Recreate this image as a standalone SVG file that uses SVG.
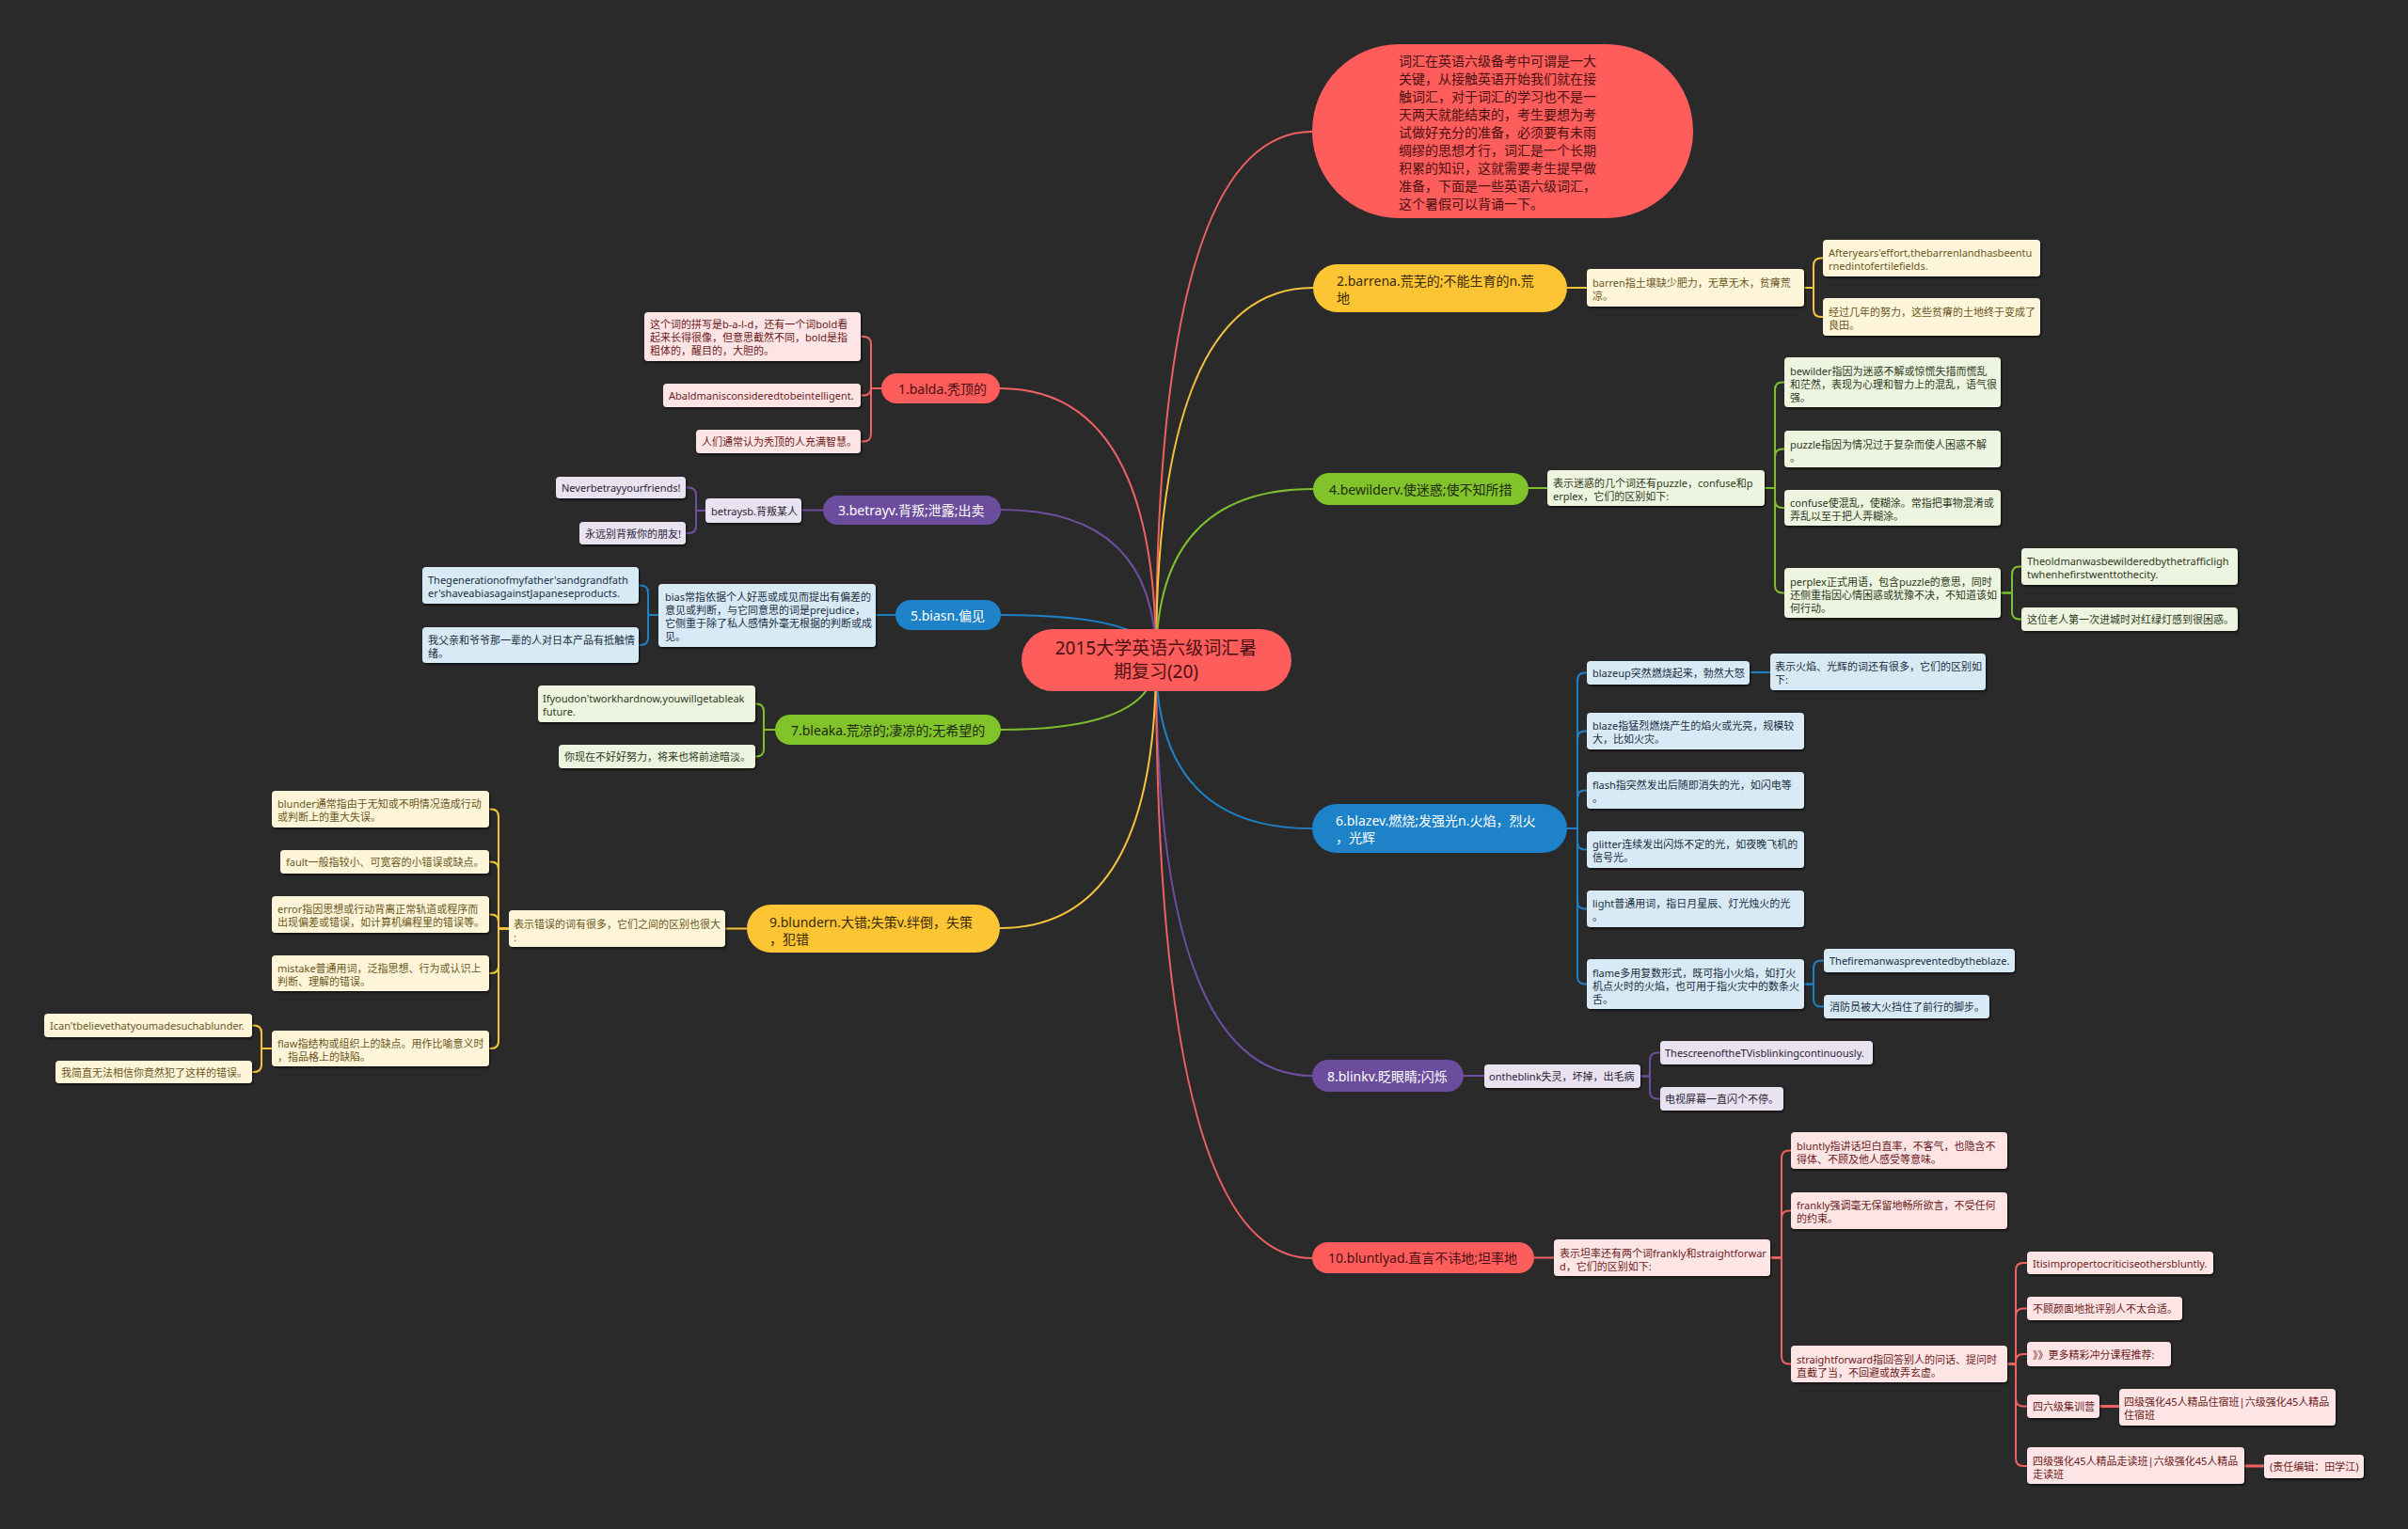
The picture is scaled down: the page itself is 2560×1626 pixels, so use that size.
<svg xmlns="http://www.w3.org/2000/svg" width="2560" height="1626" viewBox="0 0 2560 1626">
<defs>
<filter id="sh" x="-10%" y="-20%" width="120%" height="150%"><feDropShadow dx="1" dy="1.5" stdDeviation="0.8" flood-color="#000" flood-opacity="0.7"/></filter>
</defs>
<style>
text{font-family:"Noto Sans","Noto Sans CJK SC",sans-serif;dominant-baseline:central}
.lf text{font-size:11px}
.mn text{font-size:14px}
.lf rect{filter:url(#sh)}
.c path{fill:none;stroke-width:2}
.cr{stroke:#f06262}.cy{stroke:#f5c33d}.cp{stroke:#6e4f9f}.cg{stroke:#7dbf2d}.cb{stroke:#1f80c5}
.thick{stroke-width:3!important}
.lr rect{fill:#fde5e5}.lr text{fill:#6e1a1a}
.ly rect{fill:#fff5d9}.ly text{fill:#6a5520}
.lp rect{fill:#e8e2f1}.lp text{fill:#2a2438}
.lg rect{fill:#edf4df}.lg text{fill:#2f3a22}
.lb rect{fill:#d7eaf6}.lb text{fill:#1b2d3e}
.nr rect{fill:#ff5c5c}.nr text{fill:#4a1010}
.ny rect{fill:#fdc534}.ny text{fill:#3a2a05}
.np rect{fill:#6c4c9c}.np text{fill:#ffffff}
.ng rect{fill:#80c32b}.ng text{fill:#1f2a10}
.nb rect{fill:#1d82c8}.nb text{fill:#ffffff}
</style>
<rect width="2560" height="1626" fill="#2a2a2a"/>

<g id="connectors" class="c">
<path class="cr" d="M1229 702 Q1229 140 1395 140"/>
<path class="cy" d="M1229 702 Q1229 306 1396 306"/>
<path class="cg" d="M1229 702 Q1229 520 1396 520"/>
<path class="cb" d="M1229 702 Q1229 881 1395 881"/>
<path class="cp" d="M1229 702 Q1229 1144 1395 1144"/>
<path class="cr" d="M1229 702 Q1229 1338 1395 1338"/>
<path class="cr" d="M1229 702 Q1229 413 1063 413"/>
<path class="cp" d="M1229 702 Q1229 542 1064 542"/>
<path class="cb" d="M1229 702 Q1229 654 1064 654"/>
<path class="cg" d="M1229 702 Q1229 776 1064 776"/>
<path class="cy" d="M1229 702 Q1229 987 1063 987"/>
<path class="cr" d="M937 413 H926 V366 Q926 358 918 358 H915"/>
<path class="cr" d="M937 413 H926 V412.5 Q926 420.5 918 420.5 H915"/>
<path class="cr" d="M937 413 H926 V461.5 Q926 469.5 918 469.5 H915"/>
<path class="cp" d="M875 542.5 H852"/>
<path class="cp" d="M750 543 H740 V526.5 Q740 518.5 732 518.5 H729"/>
<path class="cp" d="M750 543 H740 V559 Q740 567 732 567 H729"/>
<path class="cb" d="M952 654 H931"/>
<path class="cb" d="M700 654 H689 V630.5 Q689 622.5 681 622.5 H679"/>
<path class="cb" d="M700 654 H689 V678 Q689 686 681 686 H679"/>
<path class="cg" d="M824 776 H812 V756.5 Q812 748.5 804 748.5 H803"/>
<path class="cg" d="M824 776 H812 V796.5 Q812 804.5 804 804.5 H803"/>
<path class="cy" d="M794 987.5 H771"/>
<path class="cy" d="M541 987.5 H530 V868.5 Q530 860.5 522 860.5 H520"/>
<path class="cy" d="M541 987.5 H530 V924.5 Q530 916.5 522 916.5 H520"/>
<path class="cy" d="M541 987.5 H530 V980.5 Q530 972.5 522 972.5 H520"/>
<path class="cy" d="M541 987.5 H530 V1027 Q530 1035 522 1035 H520"/>
<path class="cy" d="M541 987.5 H530 V1107 Q530 1115 522 1115 H520"/>
<path class="cy" d="M289 1115 H278 V1098.5 Q278 1090.5 270 1090.5 H268"/>
<path class="cy" d="M289 1115 H278 V1132 Q278 1140 270 1140 H268"/>
<path class="cy" d="M1666 306 H1687"/>
<path class="cy" d="M1918 306 H1928 V282.5 Q1928 274.5 1936 274.5 H1938"/>
<path class="cy" d="M1918 306 H1928 V329 Q1928 337 1936 337 H1938"/>
<path class="cg" d="M1625 519 H1645"/>
<path class="cg" d="M1876 519 H1887 V414.5 Q1887 406.5 1895 406.5 H1897"/>
<path class="cg" d="M1876 519 H1887 V485.5 Q1887 477.5 1895 477.5 H1897"/>
<path class="cg" d="M1876 519 H1887 V532 Q1887 540 1895 540 H1897"/>
<path class="cg" d="M1876 519 H1887 V622.5 Q1887 630.5 1895 630.5 H1897"/>
<path class="cg" d="M2127 630.5 H2139 V610.5 Q2139 602.5 2147 602.5 H2149"/>
<path class="cg" d="M2127 630.5 H2139 V650.5 Q2139 658.5 2147 658.5 H2149"/>
<path class="cb" d="M1666 881 H1677 V723.5 Q1677 715.5 1685 715.5 H1687"/>
<path class="cb" d="M1666 881 H1677 V785.5 Q1677 777.5 1685 777.5 H1687"/>
<path class="cb" d="M1666 881 H1677 V848.5 Q1677 840.5 1685 840.5 H1687"/>
<path class="cb" d="M1666 881 H1677 V895.5 Q1677 903.5 1685 903.5 H1687"/>
<path class="cb" d="M1666 881 H1677 V958.5 Q1677 966.5 1685 966.5 H1687"/>
<path class="cb" d="M1666 881 H1677 V1038.5 Q1677 1046.5 1685 1046.5 H1687"/>
<path class="cb" d="M1860 715 H1882"/>
<path class="cb" d="M1918 1046.5 H1928 V1029.5 Q1928 1021.5 1936 1021.5 H1939"/>
<path class="cb" d="M1918 1046.5 H1928 V1062.5 Q1928 1070.5 1936 1070.5 H1939"/>
<path class="cp" d="M1556 1144 H1578"/>
<path class="cp" d="M1744 1144.5 H1754 V1127.5 Q1754 1119.5 1762 1119.5 H1765"/>
<path class="cp" d="M1744 1144.5 H1754 V1160.5 Q1754 1168.5 1762 1168.5 H1765"/>
<path class="cr" d="M1631 1337.5 H1652"/>
<path class="cr" d="M1882 1337.5 H1894 V1231.5 Q1894 1223.5 1902 1223.5 H1904"/>
<path class="cr" d="M1882 1337.5 H1894 V1295.5 Q1894 1287.5 1902 1287.5 H1904"/>
<path class="cr" d="M1882 1337.5 H1894 V1442.5 Q1894 1450.5 1902 1450.5 H1904"/>
<path class="cr" d="M2134 1450.5 H2143 V1351 Q2143 1343 2151 1343 H2155"/>
<path class="cr" d="M2134 1450.5 H2143 V1399.5 Q2143 1391.5 2151 1391.5 H2155"/>
<path class="cr" d="M2134 1450.5 H2143 V1448 Q2143 1440 2151 1440 H2155"/>
<path class="cr" d="M2134 1450.5 H2143 V1487.5 Q2143 1495.5 2151 1495.5 H2155"/>
<path class="cr" d="M2134 1450.5 H2143 V1551 Q2143 1559 2151 1559 H2155"/>
<path class="cr thick" d="M2232 1495.5 H2253"/>
<path class="cr thick" d="M2386 1559 H2407"/>
</g>

<g id="center" class="nr"><rect x="1086" y="669" width="287" height="66" rx="33"/>
<text x="1229" y="689" text-anchor="middle" font-size="19">2015大学英语六级词汇暑</text>
<text x="1229" y="714" text-anchor="middle" font-size="19">期复习(20)</text></g>
<g id="intro" class="nr"><rect x="1395" y="47" width="405" height="185" rx="92.5"/>
<text font-size="14"><tspan x="1487" y="64">词汇在英语六级备考中可谓是一大</tspan><tspan x="1487" y="83">关键，从接触英语开始我们就在接</tspan><tspan x="1487" y="102">触词汇，对于词汇的学习也不是一</tspan><tspan x="1487" y="121">天两天就能结束的，考生要想为考</tspan><tspan x="1487" y="140">试做好充分的准备，必须要有未雨</tspan><tspan x="1487" y="159">绸缪的思想才行，词汇是一个长期</tspan><tspan x="1487" y="178">积累的知识，这就需要考生提早做</tspan><tspan x="1487" y="197">准备，下面是一些英语六级词汇，</tspan><tspan x="1487" y="216">这个暑假可以背诵一下。</tspan></text></g>

<g id="n1" class="mn nr"><rect x="937" y="397" width="126" height="32" rx="16"/><text x="955" y="413">1.balda.秃顶的</text></g>
<g id="n2" class="mn ny"><rect x="1396" y="281" width="270" height="51" rx="25.5"/><text><tspan x="1421" y="298">2.barrena.荒芜的;不能生育的n.荒</tspan><tspan x="1421" y="316">地</tspan></text></g>
<g id="n3" class="mn np"><rect x="875" y="527" width="189" height="31" rx="15.5"/><text x="891" y="542.5">3.betrayv.背叛;泄露;出卖</text></g>
<g id="n4" class="mn ng"><rect x="1396" y="503" width="229" height="34" rx="17"/><text x="1413" y="520">4.bewilderv.使迷惑;使不知所措</text></g>
<g id="n5" class="mn nb"><rect x="952" y="638" width="112" height="32" rx="16"/><text x="968" y="654">5.biasn.偏见</text></g>
<g id="n6" class="mn nb"><rect x="1395" y="855" width="271" height="52" rx="26"/><text><tspan x="1420" y="872">6.blazev.燃烧;发强光n.火焰，烈火</tspan><tspan x="1420" y="890">，光辉</tspan></text></g>
<g id="n7" class="mn ng"><rect x="824" y="760" width="240" height="32" rx="16"/><text x="841" y="776">7.bleaka.荒凉的;凄凉的;无希望的</text></g>
<g id="n8" class="mn np"><rect x="1395" y="1127" width="161" height="34" rx="17"/><text x="1411" y="1144">8.blinkv.眨眼睛;闪烁</text></g>
<g id="n9" class="mn ny"><rect x="794" y="962" width="269" height="51" rx="25.5"/><text><tspan x="818" y="980">9.blundern.大错;失策v.绊倒，失策</tspan><tspan x="818" y="998">，犯错</tspan></text></g>
<g id="n10" class="mn nr"><rect x="1395" y="1321" width="236" height="33" rx="16.5"/><text x="1412" y="1337.5">10.bluntlyad.直言不讳地;坦率地</text></g>

<g id="n1a" class="lf lr"><rect x="685" y="332" width="230" height="52" rx="4"/><text><tspan x="691" y="344">这个词的拼写是b-a-l-d，还有一个词bold看</tspan><tspan x="691" y="358">起来长得很像，但意思截然不同，bold是指</tspan><tspan x="691" y="372">粗体的，醒目的，大胆的。</tspan></text></g>
<g id="n1b" class="lf lr"><rect x="705" y="408" width="210" height="25" rx="4"/><text x="711" y="420.5">Abaldmanisconsideredtobeintelligent.</text></g>
<g id="n1c" class="lf lr"><rect x="740" y="457" width="175" height="25" rx="4"/><text x="746" y="469.5">人们通常认为秃顶的人充满智慧。</text></g>

<g id="n3a" class="lf lp"><rect x="750" y="530" width="102" height="26" rx="4"/><text x="756" y="543">betraysb.背叛某人</text></g>
<g id="n3b" class="lf lp"><rect x="591" y="507" width="138" height="23" rx="4"/><text x="597" y="518.5">Neverbetrayyourfriends!</text></g>
<g id="n3c" class="lf lp"><rect x="616" y="555" width="113" height="24" rx="4"/><text x="622" y="567">永远别背叛你的朋友!</text></g>

<g id="n5a" class="lf lb"><rect x="700" y="621" width="231" height="67" rx="4"/><text><tspan x="707" y="634">bias常指依据个人好恶或成见而提出有偏差的</tspan><tspan x="707" y="648">意见或判断，与它同意思的词是prejudice，</tspan><tspan x="707" y="662">它侧重于除了私人感情外毫无根据的判断或成</tspan><tspan x="707" y="676">见。</tspan></text></g>
<g id="n5b" class="lf lb"><rect x="449" y="603" width="230" height="39" rx="4"/><text><tspan x="455" y="616">Thegenerationofmyfather'sandgrandfath</tspan><tspan x="455" y="630">er'shaveabiasagainstJapaneseproducts.</tspan></text></g>
<g id="n5c" class="lf lb"><rect x="449" y="667" width="230" height="38" rx="4"/><text><tspan x="455" y="679.5">我父亲和爷爷那一辈的人对日本产品有抵触情</tspan><tspan x="455" y="693.5">绪。</tspan></text></g>

<g id="n7a" class="lf lg"><rect x="572" y="729" width="231" height="39" rx="4"/><text><tspan x="577" y="742">Ifyoudon'tworkhardnow,youwillgetableak</tspan><tspan x="577" y="756">future.</tspan></text></g>
<g id="n7b" class="lf lg"><rect x="594" y="792" width="209" height="25" rx="4"/><text x="600" y="804.5">你现在不好好努力，将来也将前途暗淡。</text></g>

<g id="n9a" class="lf ly"><rect x="541" y="968" width="230" height="39" rx="4"/><text><tspan x="546" y="981.5">表示错误的词有很多，它们之间的区别也很大</tspan><tspan x="546" y="995.5">:</tspan></text></g>
<g id="n9b" class="lf ly"><rect x="289" y="841" width="231" height="39" rx="4"/><text><tspan x="295" y="854">blunder通常指由于无知或不明情况造成行动</tspan><tspan x="295" y="868">或判断上的重大失误。</tspan></text></g>
<g id="n9c" class="lf ly"><rect x="298" y="904" width="222" height="25" rx="4"/><text x="304" y="916.5">fault一般指较小、可宽容的小错误或缺点。</text></g>
<g id="n9d" class="lf ly"><rect x="289" y="953" width="231" height="39" rx="4"/><text><tspan x="295" y="966">error指因思想或行动背离正常轨道或程序而</tspan><tspan x="295" y="980">出现偏差或错误，如计算机编程里的错误等。</tspan></text></g>
<g id="n9e" class="lf ly"><rect x="289" y="1016" width="231" height="38" rx="4"/><text><tspan x="295" y="1028.5">mistake普通用词，泛指思想、行为或认识上</tspan><tspan x="295" y="1042.5">判断、理解的错误。</tspan></text></g>
<g id="n9f" class="lf ly"><rect x="289" y="1096" width="231" height="38" rx="4"/><text><tspan x="295" y="1108.5">flaw指结构或组织上的缺点。用作比喻意义时</tspan><tspan x="295" y="1122.5">，指品格上的缺陷。</tspan></text></g>
<g id="n9g" class="lf ly"><rect x="47" y="1078" width="221" height="25" rx="4"/><text x="53" y="1090.5">Ican'tbelievethatyoumadesuchablunder.</text></g>
<g id="n9h" class="lf ly"><rect x="59" y="1128" width="209" height="24" rx="4"/><text x="65" y="1140">我简直无法相信你竟然犯了这样的错误。</text></g>

<g id="n2a" class="lf ly"><rect x="1687" y="286" width="231" height="40" rx="4"/><text><tspan x="1693" y="299.5">barren指土壤缺少肥力，无草无木，贫瘠荒</tspan><tspan x="1693" y="313.5">凉。</tspan></text></g>
<g id="n2b" class="lf ly"><rect x="1938" y="255" width="231" height="39" rx="4"/><text><tspan x="1944" y="268">Afteryears'effort,thebarrenlandhasbeentu</tspan><tspan x="1944" y="282">rnedintofertilefields.</tspan></text></g>
<g id="n2c" class="lf ly"><rect x="1938" y="317" width="231" height="40" rx="4"/><text><tspan x="1944" y="330.5">经过几年的努力，这些贫瘠的土地终于变成了</tspan><tspan x="1944" y="344.5">良田。</tspan></text></g>

<g id="n4a" class="lf lg"><rect x="1645" y="500" width="231" height="38" rx="4"/><text><tspan x="1651" y="513">表示迷惑的几个词还有puzzle，confuse和p</tspan><tspan x="1651" y="527">erplex，它们的区别如下:</tspan></text></g>
<g id="n4b" class="lf lg"><rect x="1897" y="380" width="230" height="53" rx="4"/><text><tspan x="1903" y="393.5">bewilder指因为迷惑不解或惊慌失措而慌乱</tspan><tspan x="1903" y="407.5">和茫然，表现为心理和智力上的混乱，语气很</tspan><tspan x="1903" y="421.5">强。</tspan></text></g>
<g id="n4c" class="lf lg"><rect x="1897" y="458" width="230" height="39" rx="4"/><text><tspan x="1903" y="471.5">puzzle指因为情况过于复杂而使人困惑不解</tspan><tspan x="1903" y="485.5">。</tspan></text></g>
<g id="n4d" class="lf lg"><rect x="1897" y="521" width="230" height="38" rx="4"/><text><tspan x="1903" y="533.5">confuse使混乱，使糊涂。常指把事物混淆或</tspan><tspan x="1903" y="547.5">弄乱以至于把人弄糊涂。</tspan></text></g>
<g id="n4e" class="lf lg"><rect x="1897" y="604" width="230" height="53" rx="4"/><text><tspan x="1903" y="617.5">perplex正式用语，包含puzzle的意思，同时</tspan><tspan x="1903" y="631.5">还侧重指因心情困惑或犹豫不决，不知道该如</tspan><tspan x="1903" y="645.5">何行动。</tspan></text></g>
<g id="n4f" class="lf lg"><rect x="2149" y="583" width="230" height="39" rx="4"/><text><tspan x="2155" y="596">Theoldmanwasbewilderedbythetrafficligh</tspan><tspan x="2155" y="610">twhenhefirstwenttothecity.</tspan></text></g>
<g id="n4g" class="lf lg"><rect x="2149" y="646" width="230" height="25" rx="4"/><text x="2155" y="658.5">这位老人第一次进城时对红绿灯感到很困惑。</text></g>

<g id="n6a" class="lf lb"><rect x="1687" y="703" width="173" height="25" rx="4"/><text x="1693" y="715.5">blazeup突然燃烧起来，勃然大怒</text></g>
<g id="n6b" class="lf lb"><rect x="1882" y="695" width="229" height="39" rx="4"/><text><tspan x="1887" y="708">表示火焰、光辉的词还有很多，它们的区别如</tspan><tspan x="1887" y="722">下:</tspan></text></g>
<g id="n6c" class="lf lb"><rect x="1687" y="758" width="231" height="39" rx="4"/><text><tspan x="1693" y="771">blaze指猛烈燃烧产生的焰火或光亮，规模较</tspan><tspan x="1693" y="785">大，比如火灾。</tspan></text></g>
<g id="n6d" class="lf lb"><rect x="1687" y="821" width="231" height="39" rx="4"/><text><tspan x="1693" y="834">flash指突然发出后随即消失的光，如闪电等</tspan><tspan x="1693" y="848">。</tspan></text></g>
<g id="n6e" class="lf lb"><rect x="1687" y="884" width="231" height="39" rx="4"/><text><tspan x="1693" y="897">glitter连续发出闪烁不定的光，如夜晚飞机的</tspan><tspan x="1693" y="911">信号光。</tspan></text></g>
<g id="n6f" class="lf lb"><rect x="1687" y="947" width="231" height="39" rx="4"/><text><tspan x="1693" y="960">light普通用词，指日月星辰、灯光烛火的光</tspan><tspan x="1693" y="974">。</tspan></text></g>
<g id="n6g" class="lf lb"><rect x="1687" y="1020" width="231" height="53" rx="4"/><text><tspan x="1693" y="1033.5">flame多用复数形式，既可指小火焰，如打火</tspan><tspan x="1693" y="1047.5">机点火时的火焰，也可用于指火灾中的数条火</tspan><tspan x="1693" y="1061.5">舌。</tspan></text></g>
<g id="n6h" class="lf lb"><rect x="1939" y="1009" width="203" height="25" rx="4"/><text x="1945" y="1021.5">Thefiremanwaspreventedbytheblaze.</text></g>
<g id="n6i" class="lf lb"><rect x="1939" y="1058" width="176" height="25" rx="4"/><text x="1945" y="1070.5">消防员被大火挡住了前行的脚步。</text></g>

<g id="n8a" class="lf lp"><rect x="1578" y="1132" width="166" height="25" rx="4"/><text x="1583" y="1144.5">ontheblink失灵，坏掉，出毛病</text></g>
<g id="n8b" class="lf lp"><rect x="1765" y="1107" width="226" height="25" rx="4"/><text x="1770" y="1119.5">ThescreenoftheTVisblinkingcontinuously.</text></g>
<g id="n8c" class="lf lp"><rect x="1765" y="1156" width="131" height="25" rx="4"/><text x="1770" y="1168.5">电视屏幕一直闪个不停。</text></g>

<g id="n10a" class="lf lr"><rect x="1652" y="1318" width="230" height="39" rx="4"/><text><tspan x="1658" y="1331.5">表示坦率还有两个词frankly和straightforwar</tspan><tspan x="1658" y="1345.5">d，它们的区别如下:</tspan></text></g>
<g id="n10b" class="lf lr"><rect x="1904" y="1204" width="230" height="39" rx="4"/><text><tspan x="1910" y="1217.5">bluntly指讲话坦白直率，不客气，也隐含不</tspan><tspan x="1910" y="1231.5">得体、不顾及他人感受等意味。</tspan></text></g>
<g id="n10c" class="lf lr"><rect x="1904" y="1268" width="230" height="39" rx="4"/><text><tspan x="1910" y="1281">frankly强调毫无保留地畅所欲言，不受任何</tspan><tspan x="1910" y="1295">的约束。</tspan></text></g>
<g id="n10d" class="lf lr"><rect x="1904" y="1431" width="230" height="39" rx="4"/><text><tspan x="1910" y="1444.5">straightforward指回答别人的问话、提问时</tspan><tspan x="1910" y="1458.5">直截了当，不回避或故弄玄虚。</tspan></text></g>
<g id="n10e" class="lf lr"><rect x="2155" y="1331" width="198" height="24" rx="4"/><text x="2161" y="1343">Itisimpropertocriticiseothersbluntly.</text></g>
<g id="n10f" class="lf lr"><rect x="2155" y="1379" width="165" height="25" rx="4"/><text x="2161" y="1391.5">不顾颜面地批评别人不太合适。</text></g>
<g id="n10g" class="lf lr"><rect x="2155" y="1427" width="153" height="26" rx="4"/><text x="2161" y="1440">》》更多精彩冲分课程推荐:</text></g>
<g id="n10h" class="lf lr"><rect x="2155" y="1483" width="77" height="25" rx="4"/><text x="2161" y="1495.5">四六级集训营</text></g>
<g id="n10i" class="lf lr"><rect x="2253" y="1477" width="230" height="39" rx="4"/><text><tspan x="2258" y="1490">四级强化45人精品住宿班|六级强化45人精品</tspan><tspan x="2258" y="1504">住宿班</tspan></text></g>
<g id="n10j" class="lf lr"><rect x="2155" y="1539" width="231" height="39" rx="4"/><text><tspan x="2161" y="1552.5">四级强化45人精品走读班|六级强化45人精品</tspan><tspan x="2161" y="1566.5">走读班</tspan></text></g>
<g id="n10k" class="lf lr"><rect x="2407" y="1547" width="106" height="25" rx="4"/><text x="2413" y="1559.5">(责任编辑：田学江)</text></g>
</svg>
